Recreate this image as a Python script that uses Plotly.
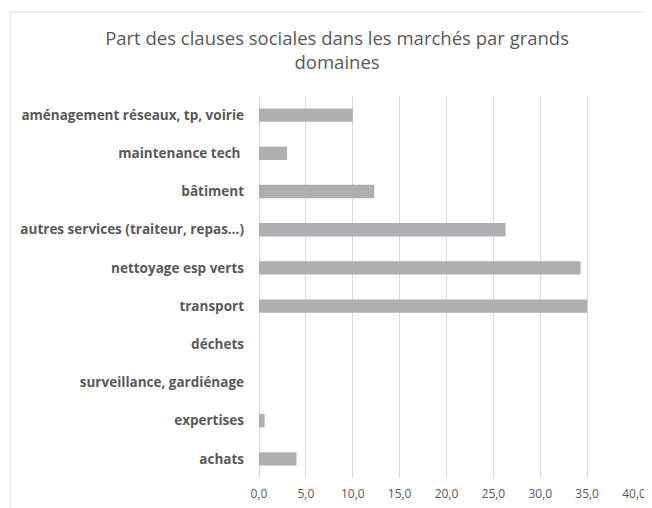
import plotly.graph_objects as go

categories = [
    "aménagement réseaux, tp, voirie",
    "maintenance tech ",
    "bâtiment",
    "autres services (traiteur, repas…)",
    "nettoyage esp verts",
    "transport",
    "déchets",
    "surveillance, gardiénage",
    "expertises",
    "achats",
]
values = [10.0, 3.0, 12.3, 26.3, 34.3, 35.0, 0.0, 0.0, 0.6, 4.0]
tick_vals = [0, 5, 10, 15, 20, 25, 30, 35, 40]

fig = go.Figure(go.Bar(
    x=values, y=categories, orientation="h",
    marker=dict(color="#AEAFB3", line=dict(width=0)),
    width=0.35,
))

fig.update_layout(
    width=644, height=500,
    margin=dict(l=251, r=18, t=88, b=30),
    paper_bgcolor="white", plot_bgcolor="white",
    separators=",.",
    showlegend=False,
    font=dict(family="Open Sans", color="#595959"),
    title=dict(
        text="Part des clauses sociales dans les marchés par grands<br>domaines",
        x=0.511, xanchor="center", y=0.927, yanchor="middle",
        font=dict(family="Open Sans", size=18.5, color="#595959"),
        automargin=False,
    ),
    xaxis=dict(
        range=[0, 40], tickvals=tick_vals, tickformat=".1f",
        showgrid=True, gridcolor="#D9D9D9", gridwidth=1,
        zeroline=True, zerolinecolor="#D9D9D9", zerolinewidth=1,
        showline=False, ticks="", automargin=False,
        ticklabelstandoff=7,
        tickfont=dict(family="Open Sans", size=12, color="#595959"),
    ),
    yaxis=dict(
        categoryorder="array", categoryarray=categories[::-1],
        showgrid=False, zeroline=False, showline=False, ticks="",
        ticklabelstandoff=14, automargin=False,
        tickfont=dict(family="Open Sans", size=13.5, color="#595959", weight="bold"),
    ),
    shapes=[
        dict(type="line", xref="paper", yref="paper", x0=-249/375, x1=1.1, y0=1 + 84/382, y1=1 + 84/382,
             line=dict(color="#D9D9D9", width=1)),
        dict(type="line", xref="paper", yref="paper", x0=-249/375, x1=-249/375, y0=-0.1, y1=1 + 84/382,
             line=dict(color="#D9D9D9", width=1)),
    ],
)

fig.write_html("out.html")
